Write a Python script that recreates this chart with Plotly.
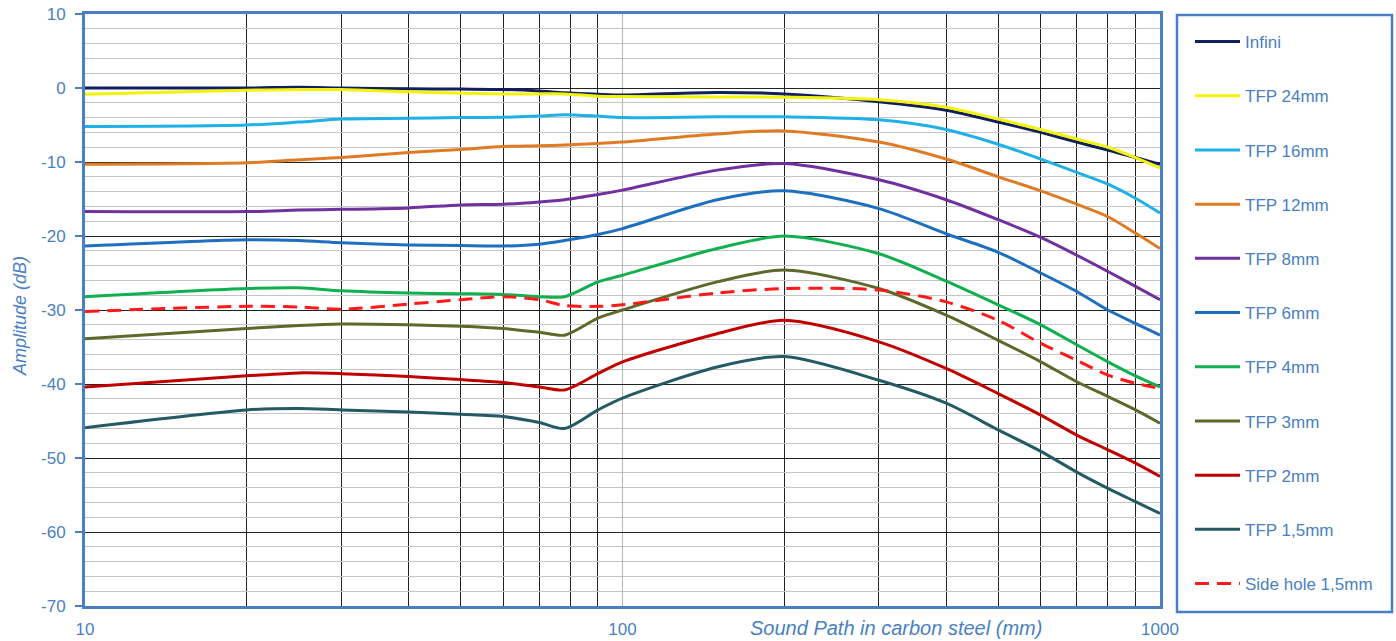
import plotly.graph_objects as go

x_mm = [10, 20, 25, 30, 40, 50, 60, 70, 78, 90, 100, 150, 200, 300, 400, 500, 600, 700, 800, 900, 1000]

infini = [0.0, 0.0, 0.1, 0.0, -0.1, -0.15, -0.2, -0.4, -0.65, -0.85, -0.95, -0.6, -0.8, -1.85, -3.0, -4.6, -6.0, -7.3, -8.4, -9.4, -10.3]
tfp24 = [-0.85, -0.3, -0.2, -0.2, -0.5, -0.7, -0.8, -0.8, -0.8, -1.1, -1.15, -1.2, -1.25, -1.6, -2.6, -4.2, -5.6, -6.9, -8.0, -9.4, -10.8]
tfp16 = [-5.2, -5.0, -4.6, -4.2, -4.1, -4.0, -3.95, -3.8, -3.6, -3.8, -4.0, -3.9, -3.9, -4.3, -5.6, -7.6, -9.6, -11.4, -13.0, -14.9, -16.9]
tfp12 = [-10.3, -10.1, -9.7, -9.4, -8.7, -8.3, -7.9, -7.8, -7.7, -7.5, -7.3, -6.2, -5.8, -7.3, -9.6, -12.0, -13.9, -15.7, -17.4, -19.6, -21.7]
tfp8 = [-16.7, -16.7, -16.5, -16.4, -16.2, -15.8, -15.7, -15.4, -15.1, -14.4, -13.8, -11.1, -10.2, -12.4, -15.1, -17.8, -20.2, -22.6, -24.8, -26.8, -28.6]
tfp6 = [-21.35, -20.5, -20.6, -20.9, -21.2, -21.3, -21.35, -21.1, -20.6, -19.8, -19.0, -15.1, -13.9, -16.3, -19.7, -22.2, -25.0, -27.5, -30.0, -31.8, -33.4]
tfp4 = [-28.2, -27.1, -27.0, -27.4, -27.7, -27.8, -27.9, -28.2, -28.2, -26.2, -25.3, -21.7, -20.0, -22.4, -26.1, -29.3, -32.0, -34.7, -37.0, -38.9, -40.4]
tfp3 = [-33.9, -32.5, -32.1, -31.9, -32.0, -32.2, -32.5, -33.0, -33.4, -31.1, -30.0, -26.2, -24.6, -27.1, -30.7, -34.1, -37.0, -39.7, -41.7, -43.5, -45.3]
tfp2 = [-40.4, -38.9, -38.5, -38.6, -39.0, -39.4, -39.8, -40.4, -40.8, -38.6, -37.0, -33.2, -31.4, -34.3, -37.9, -41.3, -44.2, -46.9, -48.9, -50.7, -52.5]
tfp15 = [-45.9, -43.5, -43.3, -43.5, -43.8, -44.1, -44.4, -45.2, -46.0, -43.5, -41.9, -37.7, -36.3, -39.5, -42.6, -46.2, -49.1, -51.9, -54.1, -55.9, -57.5]
side_hole = [-30.2, -29.5, -29.6, -29.9, -29.2, -28.6, -28.2, -28.6, -29.4, -29.5, -29.3, -27.7, -27.1, -27.3, -28.9, -31.4, -34.5, -36.8, -38.8, -39.9, -40.6]

names = ["Infini", "TFP 24mm", "TFP 16mm", "TFP 12mm", "TFP 8mm", "TFP 6mm",
         "TFP 4mm", "TFP 3mm", "TFP 2mm", "TFP 1,5mm", "Side hole 1,5mm"]
series = [infini, tfp24, tfp16, tfp12, tfp8, tfp6, tfp4, tfp3, tfp2, tfp15, side_hole]
colors = ["#121f5c", "#f2f20a", "#1fb0e8", "#e07b25", "#7030a0", "#1e6fbf",
          "#10b050", "#5b6a2a", "#c00000", "#245a66", "#ff1a1a"]
dashes = ["solid"] * 10 + ["14px,8px"]

y_ticks = [-70, -60, -50, -40, -30, -20, -10, 0, 10]
y_labels = ["-70", "-60", "-50", "-40", "-30", "-20", "-10", "0", "10"]
x_ticks = [10, 100, 1000]
x_minor = [20, 30, 40, 50, 60, 70, 80, 90, 200, 300, 400, 500, 600, 700, 800, 900]

BLUE = "#4a7fc4"
TXT = "#4a7fc1"
FONT = "Liberation Sans, Arial, sans-serif"

fig = go.Figure()
for i, (nm, ys, c, d) in enumerate(zip(names, series, colors, dashes)):
    fig.add_trace(go.Scatter(
        x=x_mm, y=ys, name=nm, mode="lines", legendgroup=str(i),
        line=dict(color=c, width=3, dash=d, shape="spline", smoothing=0.8),
    ))

L, R, T, B = 85, 236, 14, 35
W, H = 1396, 641
pw, ph = W - L - R, H - T - B

def px2paper_x(px):
    return (px - L) / pw

def px2paper_y(py):
    return (H - B - py) / ph

fig.update_layout(
    width=W, height=H,
    margin=dict(l=L, r=R, t=T, b=B, autoexpand=False),
    paper_bgcolor="white", plot_bgcolor="white",
    font=dict(family=FONT, color=TXT),
    showlegend=True,
    legend=dict(
        x=px2paper_x(1190), y=px2paper_y(24), xanchor="left", yanchor="top",
        bgcolor="rgba(0,0,0,0)", borderwidth=0,
        font=dict(size=17, color=TXT, family=FONT),
        tracegroupgap=29.1, itemwidth=45,
    ),
    xaxis=dict(
        type="log", range=[1, 3], automargin=False,
        tickvals=x_ticks, ticktext=[str(v) for v in x_ticks],
        tickfont=dict(size=17, color=TXT), ticklabelstandoff=6,
        showgrid=True, gridcolor="#b5b5b5", gridwidth=1,
        minor=dict(tickvals=x_minor, showgrid=True, gridcolor="#222222", gridwidth=1.4, ticks=""),
        ticks="", showline=True, mirror=True, linecolor=BLUE, linewidth=3,
        zeroline=False,
    ),
    yaxis=dict(
        range=[-70, 10], automargin=False,
        tickvals=y_ticks, ticktext=y_labels,
        tickfont=dict(size=17, color=TXT), ticklabelstandoff=6,
        showgrid=True, gridcolor="#222222", gridwidth=1.4,
        minor=dict(dtick=2, showgrid=True, gridcolor="#c4c4c4", gridwidth=1.4),
        ticks="outside", ticklen=7, tickcolor=BLUE, tickwidth=1.5,
        showline=True, mirror=True, linecolor=BLUE, linewidth=3,
        zeroline=False,
    ),
    shapes=[dict(
        type="rect", xref="paper", yref="paper",
        x0=px2paper_x(1177), x1=px2paper_x(1392),
        y0=px2paper_y(612), y1=px2paper_y(15),
        line=dict(color=BLUE, width=2.5), fillcolor="rgba(0,0,0,0)", layer="above",
    )],
    annotations=[
        dict(text="<i>Sound Path in carbon steel (mm)</i>", xref="paper", yref="paper",
             x=px2paper_x(896), y=px2paper_y(628), xanchor="center", yanchor="middle",
             showarrow=False, font=dict(size=20, color=TXT, family=FONT)),
        dict(text="<i>Amplitude (dB)</i>", xref="paper", yref="paper",
             x=px2paper_x(20), y=px2paper_y(316), xanchor="center", yanchor="middle",
             textangle=-90, showarrow=False, font=dict(size=18, color=TXT, family=FONT)),
    ],
)

fig.write_html("out.html", config={"displayModeBar": False},
               post_script="document.body.style.margin='0';document.body.style.overflow='hidden';")
